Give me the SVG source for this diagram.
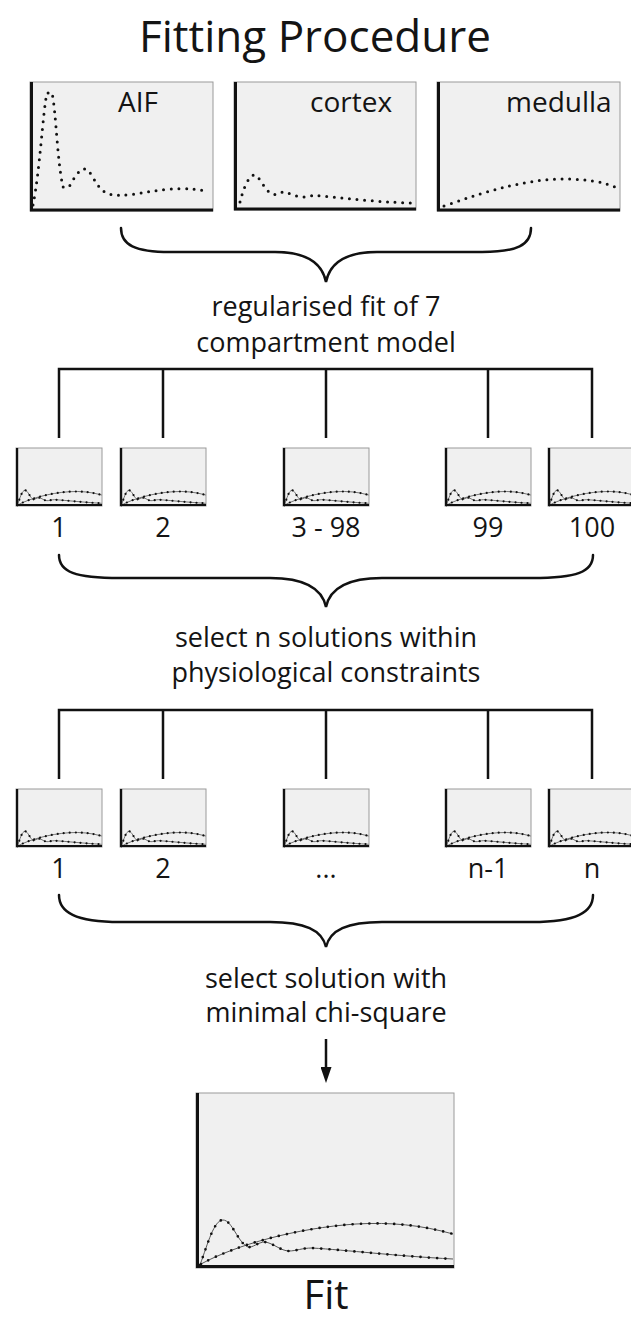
<svg xmlns="http://www.w3.org/2000/svg" xmlns:xlink="http://www.w3.org/1999/xlink" width="631" height="1320" viewBox="0 0 631 1320">
<style>
text{font-family:"Open Sans","Noto Sans","Liberation Sans",sans-serif;fill:#141414;}
.t{font-size:27px;text-anchor:middle;}
.lab{font-size:28px;}
.bg{fill:#f0f0f0;stroke:#9a9a9a;stroke-width:1;}
.ax{fill:none;stroke:#111;stroke-width:3;stroke-linejoin:miter;}
.axs{fill:none;stroke:#111;stroke-width:2.2;stroke-linejoin:miter;}
.dtop{fill:none;stroke:#111;stroke-width:3;stroke-linecap:round;stroke-dasharray:0 7.6;}
.lnb{fill:none;stroke:#555;stroke-width:1;}
.dtb{fill:none;stroke:#111;stroke-width:2.7;stroke-linecap:round;stroke-dasharray:0 8.3;}
.lns{fill:none;stroke:#555;stroke-width:0.8;}
.dts{fill:none;stroke:#111;stroke-width:2.2;stroke-linecap:round;stroke-dasharray:0 6;}
.con{fill:none;stroke:#111;stroke-width:2.5;stroke-linecap:butt;stroke-linejoin:miter;}
.br{fill:none;stroke:#111;stroke-width:2.5;stroke-linecap:round;}
</style>
<defs>
<marker id="ah" viewBox="0 0 16 11" refX="1" refY="5.5" markerWidth="16" markerHeight="11" markerUnits="userSpaceOnUse" orient="auto">
<path d="M0 0 L16 5.5 L0 11 Z" fill="#111"/>
</marker>
<g id="mini">
<rect x="0" y="0" width="86" height="58" class="bg"/>
<path d="M1.3 57.3 C4 50, 6 42.3, 9 42.3 C12 42.3, 14 50, 17.3 51.3 C19 51.7, 20.7 49.7, 23 49.7 C25.7 50, 28.3 52.7, 31 52.7 C33.3 52.7, 35.3 51.7, 38.7 51.7 C50 52.3, 66.7 54.3, 85.7 55.3" class="lns"/>
<path d="M1.3 57.3 C4 50, 6 42.3, 9 42.3 C12 42.3, 14 50, 17.3 51.3 C19 51.7, 20.7 49.7, 23 49.7 C25.7 50, 28.3 52.7, 31 52.7 C33.3 52.7, 35.3 51.7, 38.7 51.7 C50 52.3, 66.7 54.3, 85.7 55.3" class="dts"/>
<path d="M1.7 57 C13.3 50.7, 33.3 45, 53.3 43.7 C65 43, 75 44, 85.7 47" class="lns"/>
<path d="M1.7 57 C13.3 50.7, 33.3 45, 53.3 43.7 C65 43, 75 44, 85.7 47" class="dts"/>
<path d="M1.1 0 V57 H86" class="axs"/>
</g>
</defs>

<text x="315" y="52" style="font-size:44px;text-anchor:middle;">Fitting Procedure</text>

<g id="aif">
<rect x="30" y="82" width="183" height="129" class="bg"/>
<path d="M33 205 C40 170, 43 110, 47 93 L52 93 C56 110, 57 160, 63 187 L69 187 C74 178, 80 168, 85 169 C92 170, 95 188, 108 194 C125 198, 140 192, 170 189 C190 188, 200 190, 207 191" class="dtop"/>
<path d="M31.5 82 V210 H213" class="ax"/>
<text x="118" y="112" class="lab">AIF</text>
</g>

<g id="cortex">
<rect x="234" y="82" width="182" height="128" class="bg"/>
<path d="M240 202 C243 190, 248 176, 254 175 C260 176, 264 190, 272 194 C277 196, 280 192, 284 192 C290 193, 295 197, 305 197 C310 196, 315 195, 322 196 C350 199, 390 203, 417 203" class="dtop"/>
<path d="M235.5 82 V209 H416" class="ax"/>
<text x="310" y="112" class="lab">cortex</text>
</g>

<g id="medulla">
<rect x="437" y="82" width="183" height="129" class="bg"/>
<path d="M444 206 C490 190, 530 178, 570 179 C595 180, 605 183, 615 187" class="dtop"/>
<path d="M438.5 82 V210 H620" class="ax"/>
<text x="506" y="112" class="lab">medulla</text>
</g>

<g id="step1">
<text x="326" y="316" class="t">regularised fit of 7</text>
<text x="326" y="352" class="t">compartment model</text>
</g>

<g id="sol1"><use xlink:href="#mini" x="16" y="448"/><text x="59" y="537" class="t">1</text></g>
<g id="sol2"><use xlink:href="#mini" x="120" y="448"/><text x="163" y="537" class="t">2</text></g>
<g id="sol3"><use xlink:href="#mini" x="283" y="448"/><text x="326" y="537" class="t">3 - 98</text></g>
<g id="sol99"><use xlink:href="#mini" x="445" y="448"/><text x="488" y="537" class="t">99</text></g>
<g id="sol100"><use xlink:href="#mini" x="548" y="448"/><text x="592" y="537" class="t">100</text></g>

<g id="step2">
<text x="326" y="647" class="t">select n solutions within</text>
<text x="326" y="682" class="t">physiological constraints</text>
</g>

<g id="sel1"><use xlink:href="#mini" x="16" y="789"/><text x="59" y="878" class="t">1</text></g>
<g id="sel2"><use xlink:href="#mini" x="120" y="789"/><text x="163" y="878" class="t">2</text></g>
<g id="seldots"><use xlink:href="#mini" x="283" y="789"/><text x="326" y="878" class="t">...</text></g>
<g id="seln1"><use xlink:href="#mini" x="445" y="789"/><text x="488" y="878" class="t">n-1</text></g>
<g id="seln"><use xlink:href="#mini" x="548" y="789"/><text x="592" y="878" class="t">n</text></g>

<g id="step3">
<text x="326" y="988" class="t">select solution with</text>
<text x="326" y="1022" class="t">minimal chi-square</text>
</g>

<g id="fit">
<rect x="196" y="1093" width="258" height="175" class="bg"/>
<g transform="translate(196,1093)">
<path d="M4 172 C12 150, 18 127, 27 127 C36 127, 42 150, 52 154 C57 155, 62 149, 69 149 C77 150, 85 158, 93 158 C100 158, 106 155, 116 155 C150 157, 200 163, 257 166" class="lnb"/>
<path d="M4 172 C12 150, 18 127, 27 127 C36 127, 42 150, 52 154 C57 155, 62 149, 69 149 C77 150, 85 158, 93 158 C100 158, 106 155, 116 155 C150 157, 200 163, 257 166" class="dtb"/>
<path d="M5 171 C40 152, 100 135, 160 131 C195 129, 225 132, 257 141" class="lnb"/>
<path d="M5 171 C40 152, 100 135, 160 131 C195 129, 225 132, 257 141" class="dtb"/>
</g>
<path d="M197.5 1093 V1266.5 H454" class="ax"/>
<text x="326" y="1309" style="font-size:40px;text-anchor:middle;">Fit</text>
</g>

<g id="connectors">
<path d="M121 228 C121 245, 135 252, 170 252 L275 252 C305 252, 322 262, 326 282 C330 262, 347 252, 377 252 L482 252 C517 252, 531 245, 531 228" class="br"/>
<path d="M59 438 V369 H592 V438 M163 369 V438 M326 369 V438 M488 369 V438" class="con"/>
<path d="M59 555 C59 572, 75 578, 120 578 L270 578 C305 578, 322 588, 326 607 C330 588, 347 578, 382 578 L532 578 C577 578, 593 572, 593 555" class="br"/>
<path d="M59 779 V710 H592 V779 M163 710 V779 M326 710 V779 M488 710 V779" class="con"/>
<path d="M59 895 C59 912, 75 922, 120 922 L270 922 C305 922, 322 930, 326 947 C330 930, 347 922, 382 922 L532 922 C577 922, 593 912, 593 895" class="br"/>
<line x1="326" y1="1039" x2="326" y2="1068" class="con" marker-end="url(#ah)"/>
</g>
</svg>
